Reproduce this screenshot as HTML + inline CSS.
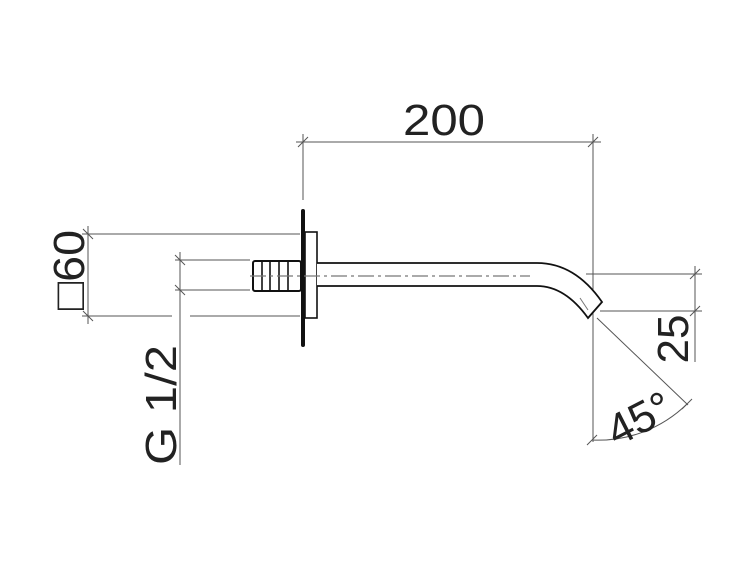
<!DOCTYPE html>
<html><head><meta charset="utf-8"><style>html,body{margin:0;padding:0;background:#fff}svg{display:block}</style></head>
<body>
<svg width="750" height="563" viewBox="0 0 750 563" xmlns="http://www.w3.org/2000/svg" font-family="Liberation Sans, sans-serif">
<g stroke="#555" stroke-width="1" fill="none">
<line x1="296" y1="142" x2="601" y2="142"/>
<line x1="303" y1="134" x2="303" y2="200"/>
<line x1="593" y1="134" x2="593" y2="442"/>
<line x1="298" y1="147" x2="308" y2="137"/>
<line x1="588" y1="147" x2="598" y2="137"/>
<line x1="82" y1="234" x2="300" y2="234"/>
<line x1="82" y1="316" x2="172" y2="316"/>
<line x1="190" y1="316" x2="300" y2="316"/>
<line x1="88" y1="226" x2="88" y2="324"/>
<line x1="83" y1="229" x2="93" y2="239"/>
<line x1="83" y1="311" x2="93" y2="321"/>
<line x1="175" y1="260" x2="250" y2="260"/>
<line x1="175" y1="290" x2="250" y2="290"/>
<line x1="180" y1="252" x2="180" y2="465"/>
<line x1="175" y1="255" x2="185" y2="265"/>
<line x1="175" y1="285" x2="185" y2="295"/>
<line x1="586" y1="274" x2="702" y2="274"/>
<line x1="600" y1="311" x2="702" y2="311"/>
<line x1="695" y1="266" x2="695" y2="362"/>
<line x1="690" y1="279" x2="700" y2="269"/>
<line x1="690" y1="316" x2="700" y2="306"/>
<line x1="597" y1="318" x2="688" y2="405"/>
<path d="M592 440 A127 127 0 0 0 687 404"/>
<line x1="587" y1="445" x2="597" y2="435"/>
<line x1="682" y1="409" x2="692" y2="399"/>
</g>
<g stroke="#111" fill="#fff">
<rect x="305" y="232" width="12" height="86" stroke-width="1.6"/>
<rect x="253" y="261" width="48" height="30" rx="2" stroke-width="2"/>
<g stroke-width="1.6"><line x1="262" y1="261" x2="262" y2="291"/><line x1="270" y1="261" x2="270" y2="291"/><line x1="279" y1="261" x2="279" y2="291"/><line x1="288" y1="261" x2="288" y2="291"/></g>
<line x1="303" y1="211" x2="303" y2="345" stroke-width="4" stroke-linecap="round"/>
<path d="M317 263 L537 263 Q575 263 602 302 L588 318 Q565 286 537 286 L317 286" stroke-width="1.8" fill="#fff"/>
</g>
<g stroke="#777" stroke-width="1.2" stroke-dasharray="16 4 3 4"><line x1="250" y1="276" x2="530" y2="276"/></g>
<line x1="580" y1="298" x2="588" y2="310" stroke="#777"/>
<g fill="#222" font-size="44">
<text x="444" y="135" text-anchor="middle" textLength="82" lengthAdjust="spacingAndGlyphs">200</text>
<text transform="translate(84,270) rotate(-90)" text-anchor="middle" textLength="80" lengthAdjust="spacingAndGlyphs">□60</text>
<text transform="translate(176,405) rotate(-90)" text-anchor="middle" textLength="120" lengthAdjust="spacingAndGlyphs">G 1/2</text>
<text transform="translate(688,339) rotate(-90)" text-anchor="middle">25</text>
<text transform="translate(646,432) rotate(-27)" text-anchor="middle">45°</text>
</g>
</svg>
</body></html>
